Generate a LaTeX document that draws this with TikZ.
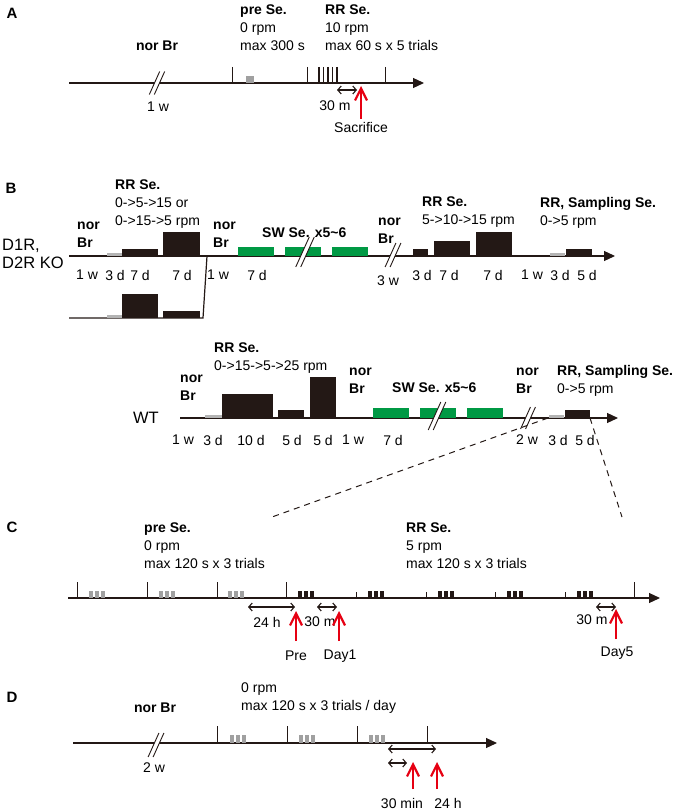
\documentclass[tikz,border=0pt]{standalone}
\usepackage{fontspec}
\setmainfont{Liberation Sans}
\usetikzlibrary{arrows.meta}
\definecolor{barblack}{HTML}{231815}
\definecolor{bargray}{HTML}{A0A0A0}
\definecolor{thingray}{HTML}{B4B4B4}
\definecolor{swgreen}{HTML}{009944}
\definecolor{sacred}{HTML}{E60012}
\newcommand{\axbreak}[3]{%
  \fill[white] (#1-0.45*#3-2.5,#2+#3) -- (#1+0.45*#3-2.5,#2-#3) -- (#1+0.45*#3+2.5,#2-#3) -- (#1-0.45*#3+2.5,#2+#3) -- cycle;
  \draw[barblack,line width=0.9pt] (#1-0.45*#3-2.5,#2+#3) -- (#1+0.45*#3-2.5,#2-#3)
    (#1-0.45*#3+2.5,#2+#3) -- (#1+0.45*#3+2.5,#2-#3);}
\begin{document}
\begin{tikzpicture}[x=1pt,y=-1pt,
  font=\fontsize{14}{18}\selectfont,
  axis/.style={barblack,line width=1.2pt,-{Triangle[length=11pt,width=10pt]}},
  tick/.style={barblack,line width=1pt},
  blk/.style={fill=barblack},
  gry/.style={fill=bargray},
  thin gry/.style={fill=thingray},
  grn/.style={fill=swgreen},
  span/.style={barblack,line width=1.1pt,{Straight Barb[length=3.5pt,width=8pt]}-{Straight Barb[length=3.5pt,width=8pt]}},
  sac/.style={sacred,line width=2.2pt,-{Straight Barb[length=12pt,width=12pt]}},
  zoomline/.style={barblack,line width=1pt,dash pattern=on 6pt off 5pt},
  head/.style={anchor=north west,inner sep=0pt,align=left},
  lbl/.style={inner sep=0pt},
  panel/.style={inner sep=0pt,font=\fontsize{15}{18}\selectfont\bfseries},
  geno/.style={inner sep=0pt,align=left,font=\fontsize{16.5}{18}\selectfont}]
  \useasboundingbox (0,0) rectangle (680,810);

  % A
  \node[panel] (lA) at (12,13) {A};
  \draw[axis] (69,83) -- (424,83);
  \axbreak{157}{83}{11.5}
  \node[lbl] (aNor) at (157,46) {\textbf{nor Br}};
  \node[lbl] (aW) at (158,107) {1 w};
  \foreach \x in {232,307,385} \draw[tick] (\x,67) -- (\x,83);
  \fill[gry] (246,76) rectangle (254,83);
  \foreach \x in {319,323.5,...,337} \draw[barblack,line width=1.3pt] (\x,67) -- (\x,83);
  \node[head] (aPre) at (240,5) {\textbf{pre Se.}\\0 rpm\\max 300 s};
  \node[head] (aRR) at (325,5) {\textbf{RR Se.}\\10 rpm\\max 60 s x 5 trials};
  \coordinate (a30l) at (337,90);
  \coordinate (a30r) at (357,90);
  \draw[span] (a30l) -- (a30r);
  \node[lbl] (a30) at (335,106) {30 m};
  \node[lbl] (aSac) at (361,127) {Sacrifice};
  \coordinate (aSacT) at (361,86);
  \draw[sac] ([yshift=3pt]aSac.north) -- (aSacT);

  % B, D1R / D2R KO
  \node[panel] (lB) at (11,188) {B};
  \node[geno,anchor=west] (bKO) at (2,254) {D1R,\\D2R KO};
  \draw[axis] (69,256) -- (615,256);
  \draw[barblack,line width=1.2pt] (69,318) -- (203,318) -- (207,256);
  \fill[thin gry] (107,253) rectangle (122,256);
  \fill[blk] (122,249) rectangle (158,256);
  \fill[blk] (163,232) rectangle (200,256);
  \fill[thin gry] (107,315) rectangle (122,318);
  \fill[blk] (122,294) rectangle (158,318);
  \fill[blk] (163,311) rectangle (200,318);
  \foreach \x in {238,285,332} \fill[grn] (\x,247) rectangle (\x+36,256);
  \fill[blk] (413,249) rectangle (428,256);
  \fill[blk] (434,241) rectangle (470,256);
  \fill[blk] (476,232) rectangle (512,256);
  \fill[thin gry] (550,253) rectangle (565,256);
  \fill[blk] (566,249) rectangle (592,256);
  \axbreak{305}{252}{15}
  \axbreak{393}{255}{12}
  \node[head] (bNor1) at (77,222) {\textbf{nor}\\\textbf{Br}};
  \node[head] (bRR1) at (115,180) {\textbf{RR Se.}\\0->5->15 or\\0->15->5 rpm};
  \node[head] (bNor2) at (213,222) {\textbf{nor}\\\textbf{Br}};
  \node[head] (bSW) at (262,228) {\textbf{SW Se. x5\textasciitilde 6}};
  \node[head] (bNor3) at (378,218) {\textbf{nor}\\\textbf{Br}};
  \node[head] (bRR2) at (422,197) {\textbf{RR Se.}\\5->10->15 rpm};
  \node[head] (bRR3) at (540,197) {\textbf{RR, Sampling Se.}\\0->5 rpm};
  \foreach \x/\t in {87/1 w,115/3 d,140/7 d,182/7 d,218/1 w,257/7 d,422/3 d,449/7 d,493/7 d,532/1 w,560/3 d,587/5 d}
    \node[lbl] (bd\x) at (\x,275) {\t};
  \node[lbl] (b3w) at (388,281) {3 w};

  % B, WT
  \node[geno,anchor=east] (bWT) at (159,418) {WT};
  \draw[axis] (180,418) -- (618,418);
  \fill[thin gry] (205,415) rectangle (222,418);
  \fill[blk] (222,394) rectangle (273,418);
  \fill[blk] (278,410) rectangle (304,418);
  \fill[blk] (310,377) rectangle (336,418);
  \foreach \x in {373,420,467} \fill[grn] (\x,408) rectangle (\x+36,418);
  \fill[thin gry] (549,415) rectangle (564,418);
  \fill[blk] (565,410) rectangle (590,418);
  \axbreak{437}{416}{14}
  \axbreak{528}{418}{11}
  \node[head] (wNor1) at (180,375) {\textbf{nor}\\\textbf{Br}};
  \node[head] (wRR1) at (214,343) {\textbf{RR Se.}\\0->15->5->25 rpm};
  \node[head] (wNor2) at (349,368) {\textbf{nor}\\\textbf{Br}};
  \node[head] (wSW) at (392,383) {\textbf{SW Se. x5\textasciitilde 6}};
  \node[head] (wNor3) at (516,368) {\textbf{nor}\\\textbf{Br}};
  \node[head] (wRR2) at (557,365) {\textbf{RR, Sampling Se.}\\0->5 rpm};
  \foreach \x/\t in {183/1 w,213/3 d,251/10 d,292/5 d,323/5 d,353/1 w,393/7 d,527/2 w,558/3 d,585/5 d}
    \node[lbl] (wd\x) at (\x,440) {\t};
  \coordinate (wZl) at (548,418);
  \coordinate (wZr) at (590,418);
  \coordinate (cZl) at (272,517);
  \coordinate (cZr) at (622,517);
  \draw[zoomline] (wZl) -- (cZl);
  \draw[zoomline] (wZr) -- (cZr);

  % C
  \node[panel] (lC) at (12,527) {C};
  \draw[axis] (68,598) -- (660,598);
  \foreach \x in {77,147,217,286,634} \draw[tick] (\x,582) -- (\x,598);
  \foreach \x in {356,426,495,565} \draw[tick] (\x,592) -- (\x,598);
  \foreach \x in {89,159,228} \foreach \d in {0,6,12} \fill[gry] (\x+\d,591) rectangle (\x+\d+4,598);
  \foreach \x in {298,368,438,507,577} \foreach \d in {0,6,12} \fill[blk] (\x+\d,591) rectangle (\x+\d+4,598);
  \node[head] (cPre) at (144,523) {\textbf{pre Se.}\\0 rpm\\max 120 s x 3 trials};
  \node[head] (cRR) at (406,523) {\textbf{RR Se.}\\5 rpm\\max 120 s x 3 trials};
  \coordinate (c24l) at (248,607);
  \coordinate (c24r) at (295,607);
  \draw[span] (c24l) -- (c24r);
  \node[lbl] (c24) at (267,622) {24 h};
  \coordinate (c30l) at (317,607);
  \coordinate (c30r) at (337,607);
  \draw[span] (c30l) -- (c30r);
  \node[lbl] (c30) at (320,622) {30 m};
  \coordinate (c530l) at (596,607);
  \coordinate (c530r) at (616,607);
  \draw[span] (c530l) -- (c530r);
  \node[lbl] (c530) at (592,620) {30 m};
  \node[lbl] (cPreL) at (296,656) {Pre};
  \node[lbl] (cDay1) at (340,656) {Day1};
  \node[lbl] (cDay5) at (617,653) {Day5};
  \coordinate (cPreT) at (296,611);
  \coordinate (cDay1T) at (339,611);
  \coordinate (cDay5T) at (616,609);
  \draw[sac] (296,641) -- (cPreT);
  \draw[sac] (339,641) -- (cDay1T);
  \draw[sac] (616,639) -- (cDay5T);

  % D
  \node[panel] (lD) at (12,697) {D};
  \draw[axis] (73,743) -- (497,743);
  \axbreak{156}{745}{12}
  \node[lbl] (dNor) at (155,708) {\textbf{nor Br}};
  \node[lbl] (dW) at (154,768) {2 w};
  \foreach \x in {217,287,357,427} \draw[tick] (\x,726) -- (\x,743);
  \foreach \x in {230,299,369} \foreach \d in {0,6,12} \fill[gry] (\x+\d,735) rectangle (\x+\d+4,743);
  \node[head] (dRpm) at (241,683) {0 rpm\\max 120 s x 3 trials / day};
  \coordinate (d24l) at (388,749);
  \coordinate (d24r) at (436,749);
  \draw[span] (d24l) -- (d24r);
  \coordinate (d30l) at (388,763);
  \coordinate (d30r) at (407,763);
  \draw[span] (d30l) -- (d30r);
  \coordinate (d30T) at (413,762);
  \coordinate (d24T) at (437,762);
  \draw[sac] (413,789) -- (d30T);
  \draw[sac] (437,789) -- (d24T);
  \node[lbl] (d30) at (402,803) {30 min};
  \node[lbl] (d24) at (448,803) {24 h};
\end{tikzpicture}
\end{document}
